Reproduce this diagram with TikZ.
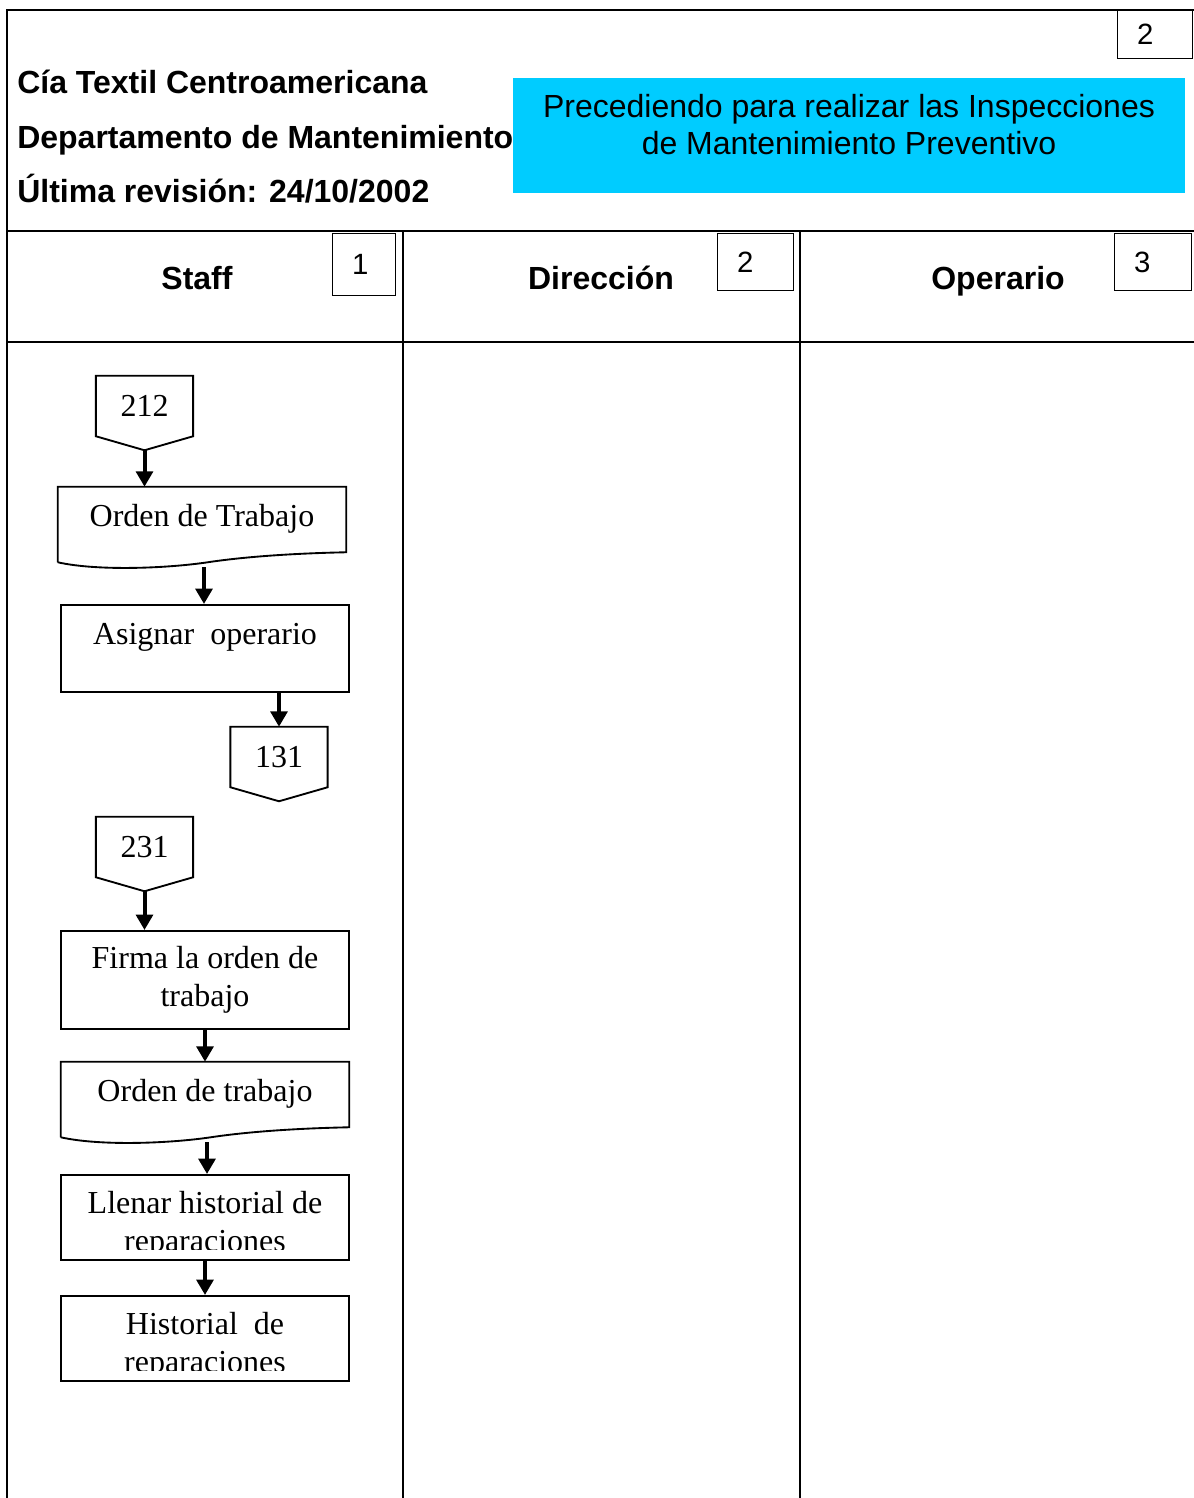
\documentclass[tikz,border=0pt]{standalone}
\usepackage{fontspec}
\setmainfont{Liberation Serif}
\newfontfamily\arial{Liberation Sans}
\usetikzlibrary{arrows.meta,calc}
\definecolor{celeste}{RGB}{0,204,255}

\begin{document}
\begin{tikzpicture}[
    x=0.75pt, y=-0.75pt,
    marco/.style={line width=2pt},
    cabecera/.style={font=\arial\bfseries\fontsize{24}{29}\selectfont, inner sep=0pt},
    numbox/.style={draw, line width=1pt, anchor=north west, inner ysep=0pt, inner xsep=14.5pt,
                   align=left, font=\arial\fontsize{22}{26}\selectfont},
    texto/.style={font=\fontsize{24}{28.5}\selectfont},
    procbox/.style={draw, line width=1.4pt, anchor=north, minimum width=216pt,
                    inner sep=0pt, texto},
    docbox/.style={minimum width=216pt, inner sep=0pt, text height=29.25pt, text depth=15.75pt, texto},
    conector/.style={minimum width=72.5pt, minimum height=45pt, inner sep=0pt, texto},
    flecha/.style={line width=3pt, -{Triangle[length=11.5pt,width=12.5pt]}}
  ]
    \useasboundingbox (0,0) rectangle (1194,1498);

    % 1. Marco y carriles
    \draw[marco] (1194,10) -- (7,10) -- (7,1498);
    \draw[marco] (7,231) -- (1194,231);
    \draw[marco] (7,342) -- (1194,342);
    \draw[marco] (403,231) -- (403,1498);
    \draw[marco] (800,231) -- (800,1498);

    % 2. Encabezado
    \node[cabecera, anchor=base west] (cia) at (17,94) {Cía Textil Centroamericana};
    \node[cabecera, anchor=base west] (depto) at (17,149) {Departamento de Mantenimiento};
    \node[cabecera, anchor=base west] (revision) at (17,203) {Última revisión: 24/10/2002};
    \fill[celeste] (513,78) rectangle (1185,193);
    \node[font=\arial\fontsize{24}{27.75}\selectfont, align=center] (titulo) at (849,125)
        {Precediendo para realizar las Inspecciones\\de Mantenimiento Preventivo};
    \node[numbox, text width=27.25pt, minimum height=36pt] (pag) at (1117,10) {2};

    % 3. Carriles
    \foreach \n/\tit/\xt/\xb/\wt/\hb in {1/Staff/197/332/18.25/46.5,
                                         2/Dirección/601/717/28/42.75,
                                         3/Operario/998/1114/28.75/42.75} {
        \node[cabecera, anchor=base] (carril-\n) at (\xt,289.5) {\tit};
        \node[numbox, text width=\wt pt, minimum height=\hb pt] (num-\n) at (\xb,233) {\n};
    }

    % 4. Conectores de pagina y documentos
    \node[conector] (c212) at (144.5,406) {212};
    \node[conector] (c131) at (279,757) {131};
    \node[conector] (c231) at (144.5,847) {231};
    \foreach \c in {c212,c131,c231} {
        \draw[line width=1.4pt] (\c.south west) -- (\c.north west) -- (\c.north east)
            -- (\c.south east) -- ($(\c.south)+(0,14)$) coordinate (\c-tip) -- cycle;
    }

    \node[docbox] (ot1) at (202,517) {Orden de Trabajo};
    \node[docbox] (ot2) at (205,1092) {Orden de trabajo};
    \foreach \d in {ot1,ot2} {
        \draw[line width=1.4pt] ($(\d.south west)+(0,15)$) -- (\d.north west) -- (\d.north east)
            -- ($(\d.south east)+(0,5)$)
            .. controls ($(\d.south west)+(240,6)$) and ($(\d.south west)+(190,9)$) .. ($(\d.south west)+(150,15)$)
            .. controls ($(\d.south west)+(110,21)$) and ($(\d.south west)+(40,24)$) .. ($(\d.south west)+(0,15)$);
        \coordinate (\d-b) at ($(\d.south)+(2,20)$);
    }

    % 5. Procesos
    \node[procbox, text height=30pt, text depth=35.25pt] (asig) at (205,604) {Asignar\ \ operario};
    \node[procbox, align=center, minimum height=73.5pt] (firma) at (205,930)
        {Firma la orden de\\trabajo};
    \node[procbox, minimum height=63.75pt] (llenar) at (205,1174) {};
    \node[procbox, minimum height=63.75pt] (hist) at (205,1295) {};
    \begin{scope}
        \clip (61,1174) rectangle (349,1249);
        \node[texto, align=center] (llenar-t) at (205,1225) {Llenar historial de\\reparaciones};
    \end{scope}
    \begin{scope}
        \clip (61,1295) rectangle (349,1370);
        \node[texto, align=center] (hist-t) at (205,1346) {Historial\ \ de\\reparaciones};
    \end{scope}

    % 6. Flechas
    \draw[flecha] (c212-tip) -- (c212-tip |- ot1.north);
    \draw[flecha] (ot1-b) -- (ot1-b |- asig.north);
    \draw[flecha] (c131.north |- asig.south) -- (c131.north);
    \draw[flecha] (c231-tip) -- (c231-tip |- firma.north);
    \draw[flecha] (firma.south) -- (firma.south |- ot2.north);
    \draw[flecha] (ot2-b) -- (ot2-b |- llenar.north);
    \draw[flecha] (llenar.south) -- (hist.north);

  \end{tikzpicture}
\end{document}
